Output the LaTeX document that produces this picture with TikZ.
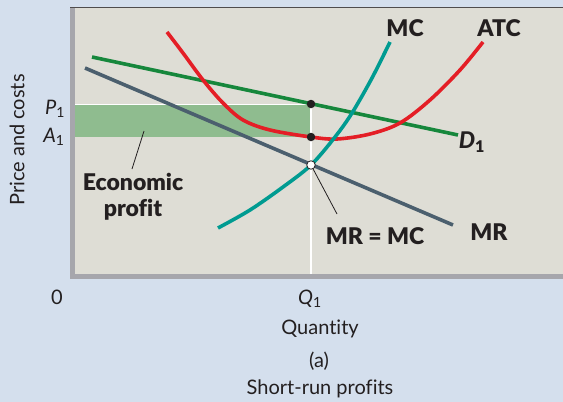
\documentclass[tikz,border=0pt]{standalone}
\usepackage{fontspec}
\setmainfont{Lato}[BoldFont={Lato Black}, Ligatures=NoCommon]
\usetikzlibrary{positioning, calc}
\definecolor{bgblue}{RGB}{212,223,237}
\definecolor{panelgray}{RGB}{222,221,213}
\definecolor{framegray}{RGB}{166,166,172}
\definecolor{mydark}{RGB}{35,31,32}
\definecolor{profitgreen}{RGB}{143,188,143}
\definecolor{demandgreen}{RGB}{22,135,60}
\definecolor{atcred}{RGB}{228,30,38}
\definecolor{mcteal}{RGB}{0,155,145}
\definecolor{mrslate}{RGB}{75,95,110}
\tikzset{
  curve/.style={line width=3.6pt},
  dot/.style={circle, fill=mydark, inner sep=0pt, minimum size=8.5pt},
  hollowdot/.style={circle, draw=mydark, fill=white, inner sep=0pt,
    minimum size=8.5pt, line width=0.8pt},
  curvelabel/.style={font=\bfseries\fontsize{23}{23}\selectfont, text=mydark},
  axislabel/.style={font=\fontsize{20}{20}\selectfont, text=mydark},
  leader/.style={line width=0.8pt, color=mydark}
}
\begin{document}
\begin{tikzpicture}[x=1pt, y=-1pt]
  \fill[bgblue] (0,0) rectangle (563,402);
  \useasboundingbox (0,0) rectangle (563,402);

  % panel and frame
  \fill[panelgray] (75,8) rectangle (563,274);
  \fill[framegray] (70,8) rectangle (75,279);
  \fill[framegray] (70,274) rectangle (563,279);
  \draw[mydark!80, line width=1.4pt] (70,7.5) -- (563,7.5);

  % profit area
  \fill[profitgreen] (75,105) rectangle (311,137);
  \draw[white, line width=1pt] (75,104.5) -- (311,104.5);
  \draw[white, line width=1.2pt] (311,105) -- (311,274);

  % curves
  \draw[curve, mrslate] (85,68) -- (453,225);
  \draw[curve, demandgreen] (92,57) -- (458,135);
  \draw[curve, atcred] plot[smooth, tension=0.55] coordinates
    {(167,32) (183,53) (203,80) (223,103) (243,120) (270,130) (311,137)
     (337,139) (370,134) (400,123) (430,100) (460,70) (483,42)};
  \draw[curve, mcteal] plot[smooth, tension=0.55] coordinates
    {(218,228) (250,210) (283,187) (311,165) (335,137) (352,113) (372,78) (390,42)};

  % points
  \node[dot] (ptP) at (311,104) {};
  \node[dot] (ptA) at (311,137) {};
  \node[hollowdot] (ptQ) at (311,165) {};

  % curve labels
  \node[curvelabel] (lblMC) at (405,28) {MC};
  \node[curvelabel] (lblATC) at (499,28) {ATC};
  \node[curvelabel] (lblD) at (472,142) {\itshape D\textsubscript{\upshape 1}};
  \node[curvelabel] (lblMR) at (489,232) {MR};
  \node[curvelabel] (lblEq) at (375,236) {MR = MC};
  \node[curvelabel, align=center, font=\bfseries\fontsize{23}{26}\selectfont]
    (lblProfit) at (133,197) {Economic\\profit};

  % leaders
  \coordinate (profitTip) at (144,131);
  \draw[leader] (132,169) -- (profitTip);
  \draw[leader] (ptQ) -- (337,214) coordinate (eqTail);

  % axis labels
  \node[axislabel] (lblP) at (55,109) {\itshape P\textsubscript{\upshape 1}};
  \node[axislabel] (lblA) at (54,137) {\itshape A\textsubscript{\upshape 1}};
  \node[axislabel, rotate=90] (lblY) at (17,140) {Price and costs};
  \node[axislabel] (lblO) at (57,297) {0};
  \node[axislabel] (lblQ) at (310,299) {\itshape Q\textsubscript{\upshape 1}};
  \node[axislabel] (lblX) at (320,329) {Quantity};
  \node[axislabel] (lblPart) at (319,361) {(a)};
  \node[axislabel] (lblCap) at (320,389) {Short-run profits};
\end{tikzpicture}
\end{document}
